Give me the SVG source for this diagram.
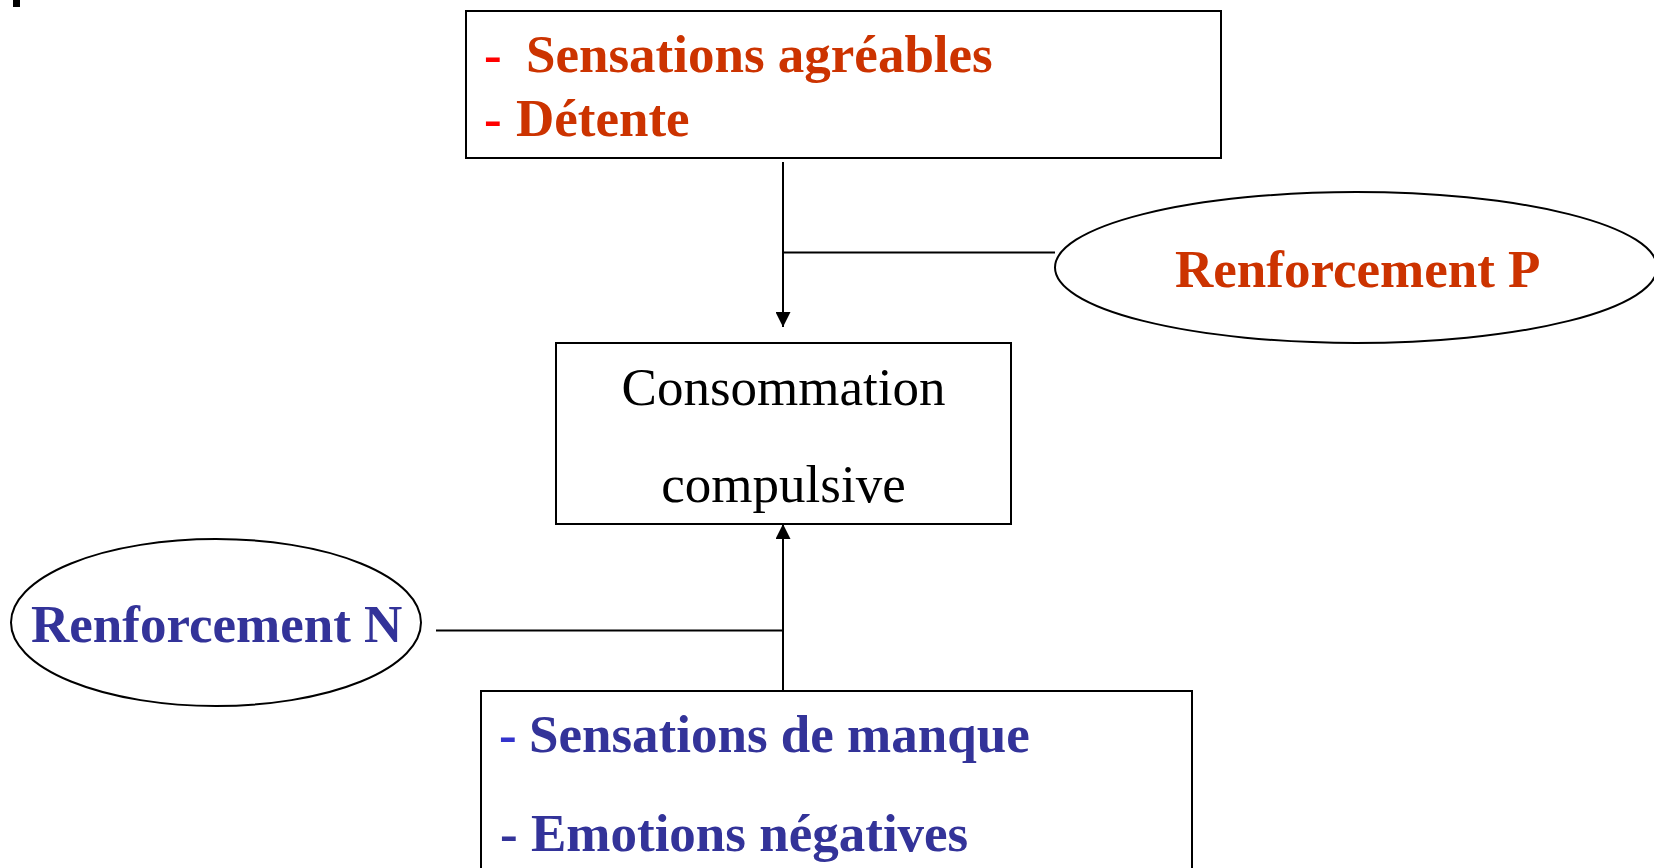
<svg xmlns="http://www.w3.org/2000/svg" width="1654" height="868" viewBox="0 0 1654 868">
  <style>
    .box { fill: #ffffff; stroke: #000000; stroke-width: 2; }
    .oval { fill: #ffffff; stroke: #000000; stroke-width: 2; }
    .link { fill: none; stroke: #000000; stroke-width: 2; }
    .lbl { font-family: "Liberation Serif", "Times New Roman", serif; font-size: 53px; }
    .bold { font-weight: bold; }
    .warm { fill: #CC3300; }
    .warmDash { fill: #FF0000; }
    .cool { fill: #333399; }
    .coolDash { fill: #3333CC; }
    .plain { fill: #000000; }
  </style>
  <defs>
    <marker id="arrow" viewBox="0 0 15 15" refX="15" refY="7.5" markerWidth="15" markerHeight="15" markerUnits="userSpaceOnUse" orient="auto">
      <path d="M0,0 L15,7.5 L0,15 Z" fill="#000000"/>
    </marker>
  </defs>

  <rect width="1654" height="868" fill="#ffffff"/>
  <rect x="13" y="0" width="7" height="7" fill="#000000"/>

  <!-- connectors -->
  <g id="connectors">
    <path class="link" d="M783,162 L783,327" marker-end="url(#arrow)"/>
    <path class="link" d="M783,252.5 L1055,252.5"/>
    <path class="link" d="M783,691 L783,524" marker-end="url(#arrow)"/>
    <path class="link" d="M436,630.5 L783,630.5"/>
  </g>

  <!-- positive effects box -->
  <g id="effets-positifs">
    <rect class="box" x="466" y="11" width="755" height="147"/>
    <text class="lbl bold warmDash" x="484" y="72">-</text>
    <text class="lbl bold warm" x="526" y="72">Sensations agréables</text>
    <text class="lbl bold warmDash" x="484" y="136">-</text>
    <text class="lbl bold warm" x="516" y="136">Détente</text>
  </g>

  <!-- positive reinforcement -->
  <g id="renforcement-p">
    <ellipse class="oval" cx="1356" cy="267.5" rx="301" ry="75.5"/>
    <text class="lbl bold warm" x="1175" y="287">Renforcement P</text>
  </g>

  <!-- central behaviour -->
  <g id="consommation">
    <rect class="box" x="556" y="343" width="455" height="181"/>
    <text class="lbl plain" x="783.5" y="405" text-anchor="middle">Consommation</text>
    <text class="lbl plain" x="783.5" y="502" text-anchor="middle">compulsive</text>
  </g>

  <!-- negative reinforcement -->
  <g id="renforcement-n">
    <ellipse class="oval" cx="216" cy="622.5" rx="205" ry="83.5"/>
    <text class="lbl bold cool" x="31" y="642">Renforcement N</text>
  </g>

  <!-- negative effects box -->
  <g id="effets-negatifs">
    <rect class="box" x="481" y="691" width="711" height="200"/>
    <text class="lbl bold coolDash" x="499" y="752">-</text>
    <text class="lbl bold cool" x="529" y="752">Sensations de manque</text>
    <text class="lbl bold cool" x="500" y="851">-</text>
    <text class="lbl bold cool" x="531" y="851">Emotions négatives</text>
  </g>
</svg>
